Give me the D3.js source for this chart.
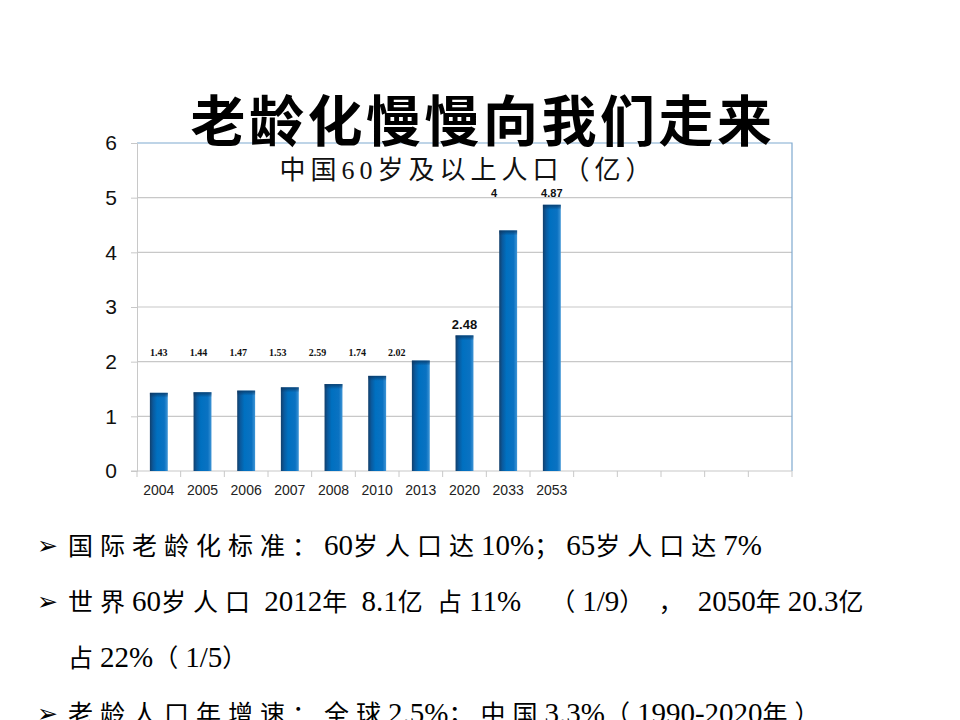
<!DOCTYPE html>
<html>
<head>
<meta charset="utf-8">
<script src="https://cdn.jsdelivr.net/npm/d3@7"></script>
<style>
  body { margin: 0; background: #fff; }
  svg { display: block; }
</style>
</head>
<body>
<svg id="chart" width="960" height="720"></svg>
<script>
// 数据
const years = ["2004", "2005", "2006", "2007", "2008", "2010", "2013", "2020", "2033", "2053"];
const emptySlots = ["e1", "e2", "e3", "e4", "e5"];
const values = [1.43, 1.44, 1.47, 1.53, 1.59, 1.74, 2.02, 2.48, 4.4, 4.87];
const labelTexts = ["1.43", "1.44", "1.47", "1.53", "2.59", "1.74", "2.02", "2.48", "4", "4.87"];
const yTicks = [0, 1, 2, 3, 4, 5, 6];

const title = "老龄化慢慢向我们走来";
const subtitle = "中国60岁及以上人口（亿）";
const bullets = [
  { bullet: true, text: "国际老龄化标准：60岁人口达10%；65岁人口达7%" },
  { bullet: true, text: "世界60岁人口 2012年 8.1亿 占11%    （1/9） ， 2050年20.3亿" },
  { bullet: false, text: "占22%（1/5）" },
  { bullet: true, text: "老龄人口年增速：全球2.5%；中国3.3%（1990-2020年）" },
];

const svg = d3.select("#chart");
const m = { left: 137, right: 792, top: 143, bottom: 471 };

const x = d3.scaleBand()
  .domain(years.concat(emptySlots))
  .range([m.left, m.right])
  .paddingInner(0)
  .paddingOuter(0);
const y = d3.scaleLinear().domain([0, 6]).range([m.bottom, m.top]);
const bw = x.bandwidth() * 0.41;

// 渐变
const defs = svg.append("defs");
const grad = defs.append("linearGradient").attr("id", "barGrad")
  .attr("x1", "0%").attr("x2", "100%").attr("y1", "0%").attr("y2", "0%");
[["0%", "#123f6b"], ["18%", "#0a5a9e"], ["40%", "#0070c0"], ["80%", "#0a72c2"], ["100%", "#3f95d6"]]
  .forEach(([o, c]) => grad.append("stop").attr("offset", o).attr("stop-color", c));
const topGrad = defs.append("linearGradient").attr("id", "topGrad")
  .attr("x1", "0%").attr("x2", "0%").attr("y1", "0%").attr("y2", "100%");
topGrad.append("stop").attr("offset", "0%").attr("stop-color", "#0b3560").attr("stop-opacity", 0.8);
topGrad.append("stop").attr("offset", "100%").attr("stop-color", "#0b3560").attr("stop-opacity", 0);

// 网格
svg.append("g")
  .selectAll("line")
  .data(yTicks.filter((d) => d > 0 && d < 6))
  .join("line")
  .attr("x1", m.left).attr("x2", m.right)
  .attr("y1", (d) => y(d)).attr("y2", (d) => y(d))
  .attr("stroke", "#c8c8c8").attr("stroke-width", 1.2);

// 图框 (上、右)
svg.append("path")
  .attr("d", `M${m.left},${y(6)}H${m.right}V${m.bottom}`)
  .attr("fill", "none").attr("stroke", "#7fa9cf").attr("stroke-width", 1.2);

// y 轴
const yAxis = svg.append("g")
  .attr("transform", `translate(${m.left},0)`)
  .call(d3.axisLeft(y).tickValues(yTicks).tickSize(6).tickPadding(14).tickFormat(d3.format("d")));
yAxis.select(".domain").attr("stroke", "#c8c8c8");
yAxis.selectAll(".tick line").attr("stroke", "#c8c8c8");
yAxis.selectAll("text")
  .attr("font-family", "'Liberation Sans', Arial, sans-serif")
  .attr("font-size", 21).attr("fill", "#111");

// x 轴
svg.append("line")
  .attr("x1", m.left - 6).attr("x2", m.right)
  .attr("y1", m.bottom).attr("y2", m.bottom)
  .attr("stroke", "#c8c8c8").attr("stroke-width", 1.2);
svg.append("g")
  .selectAll("line")
  .data(x.domain().concat(["end"]))
  .join("line")
  .attr("x1", (d, i) => m.left + i * x.step())
  .attr("x2", (d, i) => m.left + i * x.step())
  .attr("y1", m.bottom).attr("y2", m.bottom + 6)
  .attr("stroke", "#c8c8c8");
svg.append("g")
  .selectAll("text")
  .data(years)
  .join("text")
  .attr("x", (d) => x(d) + x.bandwidth() / 2)
  .attr("y", m.bottom + 24)
  .attr("text-anchor", "middle")
  .attr("font-family", "'Liberation Sans Narrow', 'Liberation Sans', Arial, sans-serif")
  .attr("font-size", 14)
  .attr("fill", "#222")
  .text((d) => d);

// 柱子
const bars = svg.append("g");
bars.selectAll("rect.bar")
  .data(values)
  .join("rect")
  .attr("class", "bar")
  .attr("x", (d, i) => x(years[i]) + (x.bandwidth() - bw) / 2)
  .attr("y", (d) => y(d))
  .attr("width", bw)
  .attr("height", (d) => y(0) - y(d))
  .attr("fill", "url(#barGrad)");
bars.selectAll("rect.top")
  .data(values)
  .join("rect")
  .attr("class", "top")
  .attr("x", (d, i) => x(years[i]) + (x.bandwidth() - bw) / 2)
  .attr("y", (d) => y(d))
  .attr("width", bw)
  .attr("height", 5)
  .attr("fill", "url(#topGrad)");

// 数据标签
const rowCount = 7;
const labelY = (d, i) => {
  if (i < rowCount) return y(2.1);
  if (i === rowCount) return y(values[i]) - 6;
  return y(d3.max(values)) - 8;
};
svg.append("g")
  .selectAll("text")
  .data(labelTexts)
  .join("text")
  .attr("x", (d, i) => x(years[i]) + x.bandwidth() / 2 - (i < rowCount ? i * 4 : (i === 8 ? 14 : 0)))
  .attr("y", labelY)
  .attr("text-anchor", "middle")
  .attr("font-family", (d, i) => i < rowCount ? "'Liberation Serif', 'Times New Roman', serif" : "'Liberation Sans', Arial, sans-serif")
  .attr("font-weight", "bold")
  .attr("font-size", (d, i) => i < rowCount ? 10 : (i === rowCount ? 13 : 11))
  .attr("fill", "#111")
  .text((d) => d);

// 标题
svg.append("text")
  .attr("x", 483).attr("y", 141)
  .attr("text-anchor", "middle")
  .attr("font-family", "'Noto Sans CJK SC', sans-serif")
  .attr("font-weight", "bold")
  .attr("font-size", 55)
  .attr("letter-spacing", 3.5)
  .attr("fill", "#000")
  .text(title);

svg.append("text")
  .attr("x", 468).attr("y", 179)
  .attr("text-anchor", "middle")
  .attr("font-family", "'Liberation Serif', 'Noto Sans CJK SC', serif")
  .attr("font-size", 26)
  .attr("letter-spacing", 5)
  .attr("fill", "#111")
  .text(subtitle);

// 正文
const cjk = /[\u3000-\u303f\u4e00-\u9fff\uff00-\uffef]+/g;
function runs(str) {
  const out = [];
  let last = 0;
  str.replace(cjk, (mt, off) => {
    if (off > last) out.push({ t: str.slice(last, off), c: false });
    out.push({ t: mt, c: true });
    last = off + mt.length;
  });
  if (last < str.length) out.push({ t: str.slice(last), c: false });
  return out;
}

const lineGap = 56;
const body = svg.append("g");
bullets.forEach((b, i) => {
  const base = 555 + i * lineGap;
  if (b.bullet) {
    body.append("text")
      .attr("x", 37).attr("y", base - 1)
      .attr("font-family", "'DejaVu Sans', sans-serif")
      .attr("font-size", 25)
      .attr("fill", "#000")
      .text("➢");
  }
  const t = body.append("text")
    .attr("x", 68).attr("y", base)
    .attr("font-family", "'Liberation Serif', 'Noto Sans CJK SC', serif")
    .attr("fill", "#000")
    .attr("xml:space", "preserve")
    .style("white-space", "pre");
  t.selectAll("tspan")
    .data(runs(b.text))
    .join("tspan")
    .attr("font-size", (d) => d.c ? 25 : 29)
    .attr("letter-spacing", (d) => d.c ? 7 : 0)
    .text((d) => d.t);
});
</script>
</body>
</html>
